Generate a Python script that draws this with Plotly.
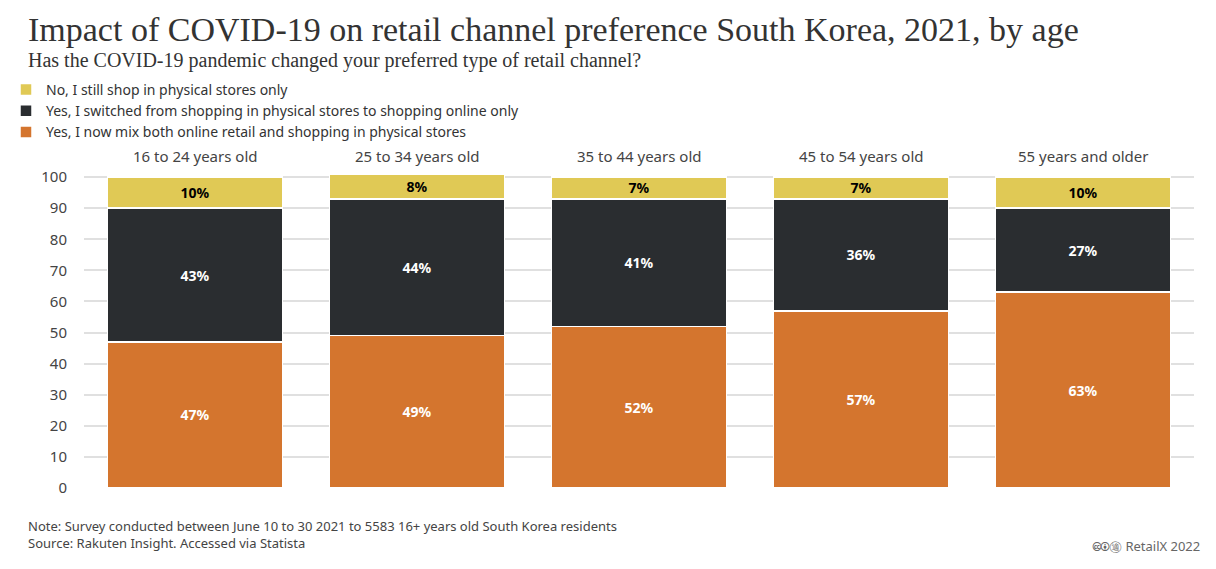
import plotly.graph_objects as go

categories = ["16 to 24 years old", "25 to 34 years old", "35 to 44 years old", "45 to 54 years old", "55 years and older"]
physical_only = [10, 8, 7, 7, 10]
online_only = [43, 44, 41, 36, 27]
mixed = [47, 49, 52, 57, 63]
y_ticks = [0, 10, 20, 30, 40, 50, 60, 70, 80, 90, 100]

O = 8  # page offset
W, H = 1216, 569
L, R, T, B = 84 - O, 22 + O, 174 - O, 81 + O
def px(x): return (x - O - L) / (W - L - R)
def py(y): return (H - B - (y - O)) / (H - T - B)

F = "Source Sans Pro, Noto Sans, sans-serif"
S = "Liberation Serif, serif"
fig = go.Figure()
series = [
    ("Yes, I now mix both online retail and shopping in physical stores", mixed, "#d4752e", "white"),
    ("Yes, I switched from shopping in physical stores to shopping online only", online_only, "#2a2d30", "white"),
    ("No, I still shop in physical stores only", physical_only, "#e0c955", "black"),
]
for name, vals, col, tc in series:
    fig.add_bar(x=categories, y=vals, name=name, marker=dict(color=col, line=dict(color="white", width=1.5)),
                text=[f"<b>{v}%</b>" for v in vals], textposition="inside", insidetextanchor="middle",
                constraintext="none", textangle=0,
                textfont=dict(color=tc, size=14, family=F), hoverinfo="skip")

for c in categories:
    fig.add_annotation(x=c, y=py(156), yref="paper", text=c, showarrow=False, yanchor="middle",
                       font=dict(size=15, color="#444", family=F))

fig.update_layout(
    barmode="stack", bargap=0.21, width=W, height=H, plot_bgcolor="white", paper_bgcolor="white",
    margin=dict(l=L, r=R, t=T, b=B, autoexpand=False),
    showlegend=True,
    legend=dict(x=px(6), xanchor="left", y=py(74), yanchor="top", traceorder="reversed",
                font=dict(size=14, color="#333", family=F), tracegroupgap=0, itemwidth=30),
    xaxis=dict(showticklabels=False, showgrid=False, zeroline=False),
    yaxis=dict(range=[0, 101], tickvals=y_ticks, showgrid=True, gridcolor="#e0e0e0", gridwidth=2,
               zeroline=False, tickfont=dict(size=15, color="#444", family=F), ticklabelstandoff=16),
)
fig.add_annotation(xref="paper", yref="paper", x=px(26), y=py(29), xanchor="left", yanchor="middle",
                   text="Impact of COVID-19 on retail channel preference South Korea, 2021, by age", showarrow=False,
                   font=dict(size=34, color="#333", family=S))
fig.add_annotation(xref="paper", yref="paper", x=px(26), y=py(61), xanchor="left", yanchor="middle",
                   text="Has the COVID-19 pandemic changed your preferred type of retail channel?", showarrow=False,
                   font=dict(size=20, color="#333", family=S))
fig.add_annotation(xref="paper", yref="paper", x=px(26), y=py(515), xanchor="left", yanchor="top",
                   text="Note: Survey conducted between June 10 to 30 2021 to 5583 16+ years old South Korea residents<br>Source: Rakuten Insight. Accessed via Statista",
                   align="left", showarrow=False, font=dict(size=13, color="#444", family=F))
fig.add_annotation(xref="paper", yref="paper", x=px(1202), y=py(546), xanchor="right", yanchor="middle",
                   text="🅭🅯㊜ RetailX 2022", showarrow=False, font=dict(size=13, color="#666", family=F))
fig.write_html("out.html")
